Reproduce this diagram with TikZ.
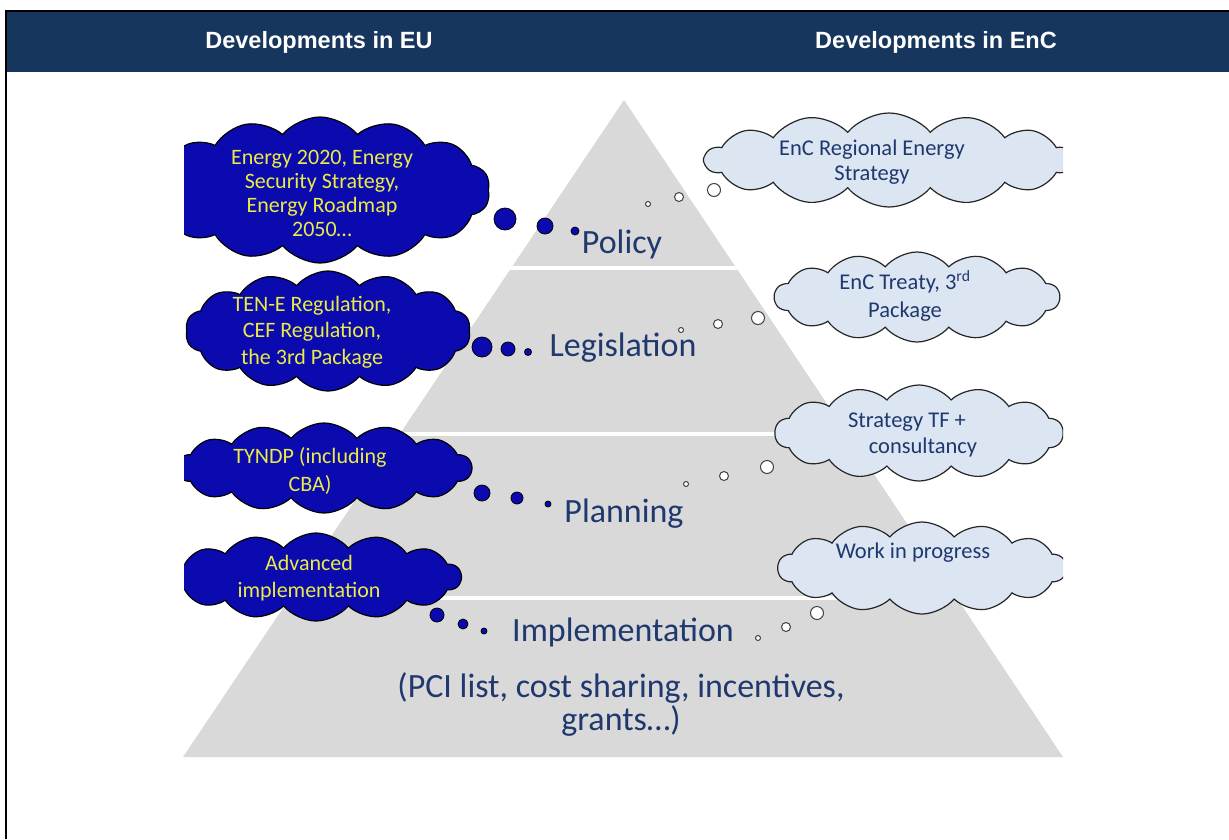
\documentclass[tikz,border=0pt]{standalone}
\usepackage{fontspec}
\usetikzlibrary{shapes.symbols}
\newfontfamily\calib{Carlito}
\newfontfamily\hdrfont{Liberation Sans}
\definecolor{hdrblue}{RGB}{23,54,93}
\definecolor{pyrgray}{RGB}{217,217,217}
\definecolor{cloudblue}{RGB}{10,10,175}
\definecolor{cloudtext}{RGB}{235,235,70}
\definecolor{cloudlight}{RGB}{220,230,242}
\definecolor{labelblue}{RGB}{31,56,110}
\begin{document}
\begin{tikzpicture}[x=1pt,y=-1pt,
  basecloud/.style={cloud, cloud puffs=14, cloud puff arc=100, cloud ignores aspect, draw=black, line width=1.2pt, inner sep=0pt},
  darkcloud/.style={basecloud, fill=cloudblue},
  lightcloud/.style={basecloud, fill=cloudlight, draw=black!85},
  darktext/.style={text=cloudtext, align=center, inner sep=0pt},
  lighttext/.style={text=labelblue, align=center, inner sep=0pt},
  level/.style={text=labelblue, font=\calib\fontsize{34}{35}\selectfont, anchor=base, inner sep=0pt},
  dbub/.style={circle, draw=black, line width=0.8pt, fill=cloudblue, inner sep=0pt},
  lbub/.style={circle, draw=black!75, line width=1pt, fill=white, inner sep=0pt},
  head/.style={text=white, font=\hdrfont\bfseries\fontsize{23.5}{25}\selectfont}
]
\useasboundingbox (0,0) rectangle (1229,839);
\fill[white] (0,0) rectangle (1229,839);
% header
\fill[hdrblue] (7,12) rectangle (1229,72);
\draw[line width=2pt] (6,839) -- (6,11) -- (1229,11);
\node[head] (h1) at (319,42) {Developments in EU};
\node[head] (h2) at (936,42) {Developments in EnC};
% pyramid
\coordinate (apex) at (624,100);
\coordinate (bl) at (183,757);
\coordinate (br) at (1063,757);
\fill[pyrgray] (apex) -- (br) -- (bl) -- cycle;
\begin{scope}
  \clip (apex) -- (br) -- (bl) -- cycle;
  \draw[white, line width=4.5pt] (150,268) -- (1100,268);
  \draw[white, line width=4.5pt] (150,434) -- (1100,434);
  \draw[white, line width=4.5pt] (150,598) -- (1100,598);
\end{scope}
% level labels
\node[level] (policy) at (622,253) {Policy};
\node[level] (legis) at (623,356) {Legislation};
\node[level] (plan) at (624,522) {Planning};
\node[level] (impl) at (623,641) {Implementation};
\node[text=labelblue, font=\calib\fontsize{34}{33}\selectfont, align=center, inner sep=0pt] (pci) at (621,704) {(PCI list, cost sharing, incentives,\\grants…)};
% clouds
\begin{scope}
  \clip (184,90) rectangle (1063,800);
  \node[darkcloud, minimum width=340pt, minimum height=146pt] (c1) at (320,190) {};
  \node[darkcloud, minimum width=285pt, minimum height=120pt] (c2) at (328,331) {};
  \node[darkcloud, minimum width=295pt, minimum height=90pt] (c3) at (324,468) {};
  \node[darkcloud, minimum width=290pt, minimum height=88pt] (c4) at (316,577) {};
  \node[lightcloud, minimum width=368pt, minimum height=94pt] (r1) at (889,160) {};
  \node[lightcloud, minimum width=285pt, minimum height=90pt] (r2) at (917,297) {};
  \node[lightcloud, minimum width=288pt, minimum height=96pt] (r3) at (919,433) {};
  \node[lightcloud, minimum width=288pt, minimum height=92pt] (r4) at (922,568) {};
\end{scope}
% cloud texts
\node[darktext, font=\calib\fontsize{22}{24}\selectfont] (t1) at (322,193) {Energy 2020, Energy\\Security Strategy,\\Energy Roadmap\\2050…};
\node[darktext, font=\calib\fontsize{22}{26.5}\selectfont] (t2) at (312,332) {TEN-E Regulation,\\CEF Regulation,\\the 3rd Package};
\node[darktext, font=\calib\fontsize{22}{28}\selectfont] (t3) at (310,471) {TYNDP (including\\CBA)};
\node[darktext, font=\calib\fontsize{22}{27}\selectfont] (t4) at (309,578) {Advanced\\implementation};
\node[lighttext, font=\calib\fontsize{22.5}{25}\selectfont] (u1) at (872,162) {EnC Regional Energy\\Strategy};
\node[lighttext, font=\calib\fontsize{22.5}{28}\selectfont] (u2) at (905,296) {EnC Treaty, 3\textsuperscript{rd}\\Package};
\node[lighttext, font=\calib\fontsize{22.5}{26}\selectfont] (u3) at (907,435) {Strategy TF +\\\hspace*{32pt}consultancy};
\node[lighttext, font=\calib\fontsize{22.5}{25}\selectfont] (u4) at (913,553) {Work in progress};
% bubbles left (dark)
\node[dbub, minimum size=22pt] (pa1) at (505,219) {};
\node[dbub, minimum size=16pt] (pa2) at (545,226) {};
\node[dbub, minimum size=8pt] (pa3) at (575,231) {};
\node[dbub, minimum size=20pt] (la1) at (482,347) {};
\node[dbub, minimum size=14pt] (la2) at (508,349) {};
\node[dbub, minimum size=7pt] (la3) at (528,352) {};
\node[dbub, minimum size=16pt] (na1) at (482,493) {};
\node[dbub, minimum size=12pt] (na2) at (517,498) {};
\node[dbub, minimum size=6pt] (na3) at (548,504) {};
\node[dbub, minimum size=14pt] (ia1) at (437,615) {};
\node[dbub, minimum size=10pt] (ia2) at (463,624) {};
\node[dbub, minimum size=6pt] (ia3) at (484,631) {};
% bubbles right (light)
\node[lbub, minimum size=5pt] (pb1) at (648,204) {};
\node[lbub, minimum size=9pt] (pb2) at (679,197) {};
\node[lbub, minimum size=13pt] (pb3) at (714,190) {};
\node[lbub, minimum size=5pt] (lb1) at (681,330) {};
\node[lbub, minimum size=9pt] (lb2) at (718,324) {};
\node[lbub, minimum size=13pt] (lb3) at (758,318) {};
\node[lbub, minimum size=5pt] (nb1) at (686,484) {};
\node[lbub, minimum size=9pt] (nb2) at (724,476) {};
\node[lbub, minimum size=13pt] (nb3) at (767,467) {};
\node[lbub, minimum size=5pt] (ib1) at (758,638) {};
\node[lbub, minimum size=9pt] (ib2) at (786,627) {};
\node[lbub, minimum size=13pt] (ib3) at (817,613) {};
\end{tikzpicture}
\end{document}
